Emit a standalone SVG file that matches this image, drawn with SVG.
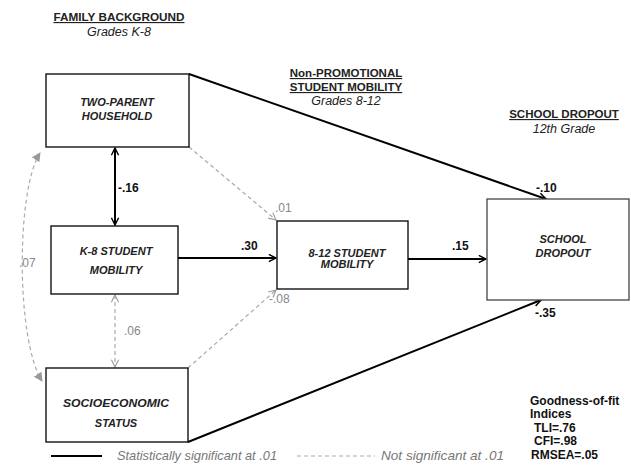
<svg xmlns="http://www.w3.org/2000/svg" width="631" height="467" viewBox="0 0 631 467">
<defs>
<marker id="ab" viewBox="0 0 10 10" refX="9" refY="5" markerWidth="9" markerHeight="9" markerUnits="userSpaceOnUse" orient="auto-start-reverse">
<path d="M1,1 L9,5 L1,9" fill="none" stroke="#000" stroke-width="1.6"/>
</marker>
<marker id="ag" viewBox="0 0 10 10" refX="9" refY="5" markerWidth="9" markerHeight="9" markerUnits="userSpaceOnUse" orient="auto-start-reverse">
<path d="M1,1 L9,5 L1,9" fill="none" stroke="#999" stroke-width="1.2"/>
</marker>
<marker id="at" viewBox="0 0 10 10" refX="9" refY="5" markerWidth="9" markerHeight="9" markerUnits="userSpaceOnUse" orient="auto-start-reverse">
<path d="M0,0 L10,5 L0,10 Z" fill="#999"/>
</marker>
</defs>
<style>
.box{fill:#fff;stroke:#000;stroke-width:1.3}
.nt{font-family:"Liberation Sans",Arial,sans-serif;font-size:11px;font-weight:bold;font-style:italic;fill:#222;text-anchor:middle}
.hd{font-family:"Liberation Sans",Arial,sans-serif;font-size:11.5px;font-weight:bold;fill:#222;text-anchor:middle;text-decoration:underline}
.sub{font-family:"Liberation Sans",Arial,sans-serif;font-size:12.5px;font-style:italic;fill:#222;text-anchor:middle}
.sl{fill:none;stroke:#000;stroke-width:2}
.dl{fill:none;stroke:#aaa;stroke-width:1.2;stroke-dasharray:4,3}
.lb{font-family:"Liberation Sans",Arial,sans-serif;font-size:12px;font-weight:bold;fill:#111}
.lg{font-family:"Liberation Sans",Arial,sans-serif;font-size:12px;fill:#888}
.leg{font-family:"Liberation Sans",Arial,sans-serif;font-size:13px;font-style:italic;fill:#777}
.gf{font-family:"Liberation Sans",Arial,sans-serif;font-size:12px;font-weight:bold;fill:#111}
</style>
<g id="headers">
<text class="hd" x="119" y="21" textLength="131" lengthAdjust="spacingAndGlyphs">FAMILY BACKGROUND</text>
<text class="sub" x="119" y="36">Grades K-8</text>
<text class="hd" x="346" y="77">Non-PROMOTIONAL</text>
<text class="hd" x="346" y="91">STUDENT MOBILITY</text>
<text class="sub" x="346" y="105">Grades 8-12</text>
<text class="hd" x="564" y="118">SCHOOL DROPOUT</text>
<text class="sub" x="564" y="133">12th Grade</text>
</g>
<g id="connectors">
<path class="sl" d="M189,74 L546,199" marker-end="url(#ab)"/>
<path class="sl" d="M115,148 L115,225" marker-start="url(#ab)" marker-end="url(#ab)"/>
<path class="dl" d="M189,147 L276,220" marker-end="url(#ag)"/>
<path class="sl" d="M178,258 L276,258" marker-end="url(#ab)"/>
<path class="sl" d="M408,259 L486,259" marker-end="url(#ab)"/>
<path class="dl" d="M188,368 L276,290" marker-end="url(#ag)"/>
<path class="sl" d="M188,442 L541,300" marker-end="url(#ab)"/>
<path class="dl" d="M115,295 L115,367" marker-start="url(#ag)" marker-end="url(#ag)"/>
<path class="dl" d="M40,153 C16,190 16,340 42,381" marker-start="url(#at)" marker-end="url(#at)"/>
<text class="lb" x="536" y="192">-.10</text>
<text class="lb" x="118" y="192">-.16</text>
<text class="lg" x="275" y="212">.01</text>
<text class="lb" x="241" y="250">.30</text>
<text class="lb" x="452" y="250">.15</text>
<text class="lg" x="269" y="303">-.08</text>
<text class="lb" x="535" y="317">-.35</text>
<text class="lg" x="124" y="335">.06</text>
<text class="lg" x="19" y="267">.07</text>
</g>
<g id="two-parent">
<rect class="box" x="46" y="74" width="143" height="73"/>
<text class="nt" x="117" y="106">TWO-PARENT</text>
<text class="nt" x="117" y="120">HOUSEHOLD</text>
</g>
<g id="k8">
<rect class="box" x="51" y="226" width="127" height="68"/>
<text class="nt" x="116" y="255">K-8 STUDENT</text>
<text class="nt" x="116" y="274">MOBILITY</text>
</g>
<g id="m812">
<rect class="box" x="277" y="221" width="131" height="68"/>
<text class="nt" x="347" y="257">8-12 STUDENT</text>
<text class="nt" x="347" y="268">MOBILITY</text>
</g>
<g id="dropout">
<rect class="box" x="487" y="199" width="142" height="101" style="stroke:#444"/>
<text class="nt" x="563" y="243">SCHOOL</text>
<text class="nt" x="563" y="257">DROPOUT</text>
</g>
<g id="ses">
<rect class="box" x="46" y="368" width="142" height="74"/>
<text class="nt" x="116" y="407" textLength="106" lengthAdjust="spacingAndGlyphs">SOCIOECONOMIC</text>
<text class="nt" x="116" y="427">STATUS</text>
</g>
<g id="legend">
<line x1="51" y1="456" x2="102" y2="456" stroke="#000" stroke-width="2"/>
<text class="leg" x="117" y="460" textLength="160" lengthAdjust="spacingAndGlyphs">Statistically significant at .01</text>
<line x1="297" y1="456" x2="375" y2="456" stroke="#aaa" stroke-width="1.2" stroke-dasharray="4,3"/>
<text class="leg" x="381" y="460" textLength="123" lengthAdjust="spacingAndGlyphs">Not significant at .01</text>
</g>
<g id="fit">
<text class="gf" x="530" y="405">Goodness-of-fit</text>
<text class="gf" x="530" y="418">Indices</text>
<text class="gf" x="534" y="432">TLI=.76</text>
<text class="gf" x="534" y="445">CFI=.98</text>
<text class="gf" x="531" y="459">RMSEA=.05</text>
</g>
</svg>
